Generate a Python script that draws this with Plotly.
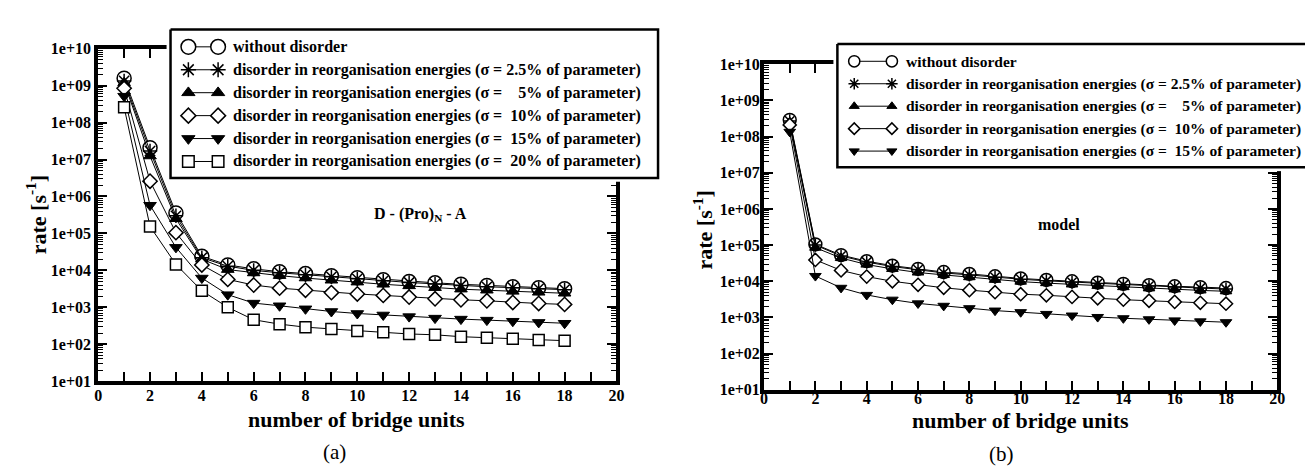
import plotly.graph_objects as go

# ---------------- data ----------------
bridge_units = list(range(1, 19))

x_tick_vals = [0, 2, 4, 6, 8, 10, 12, 14, 16, 18, 20]
x_tick_text = ["0", "2", "4", "6", "8", "10", "12", "14", "16", "18", "20"]
x_minor_vals = [1, 3, 5, 7, 9, 11, 13, 15, 17, 19]
y_tick_vals = [1e1, 1e2, 1e3, 1e4, 1e5, 1e6, 1e7, 1e8, 1e9, 1e10]
y_tick_text = ["1e+01", "1e+02", "1e+03", "1e+04", "1e+05", "1e+06", "1e+07", "1e+08", "1e+09", "1e+10"]

legend_labels = [
    "without disorder",
    "disorder in reorganisation energies (\u03c3 = 2.5% of parameter)",
    "disorder in reorganisation energies (\u03c3 =\u00a0\u00a0\u00a0\u00a05% of parameter)",
    "disorder in reorganisation energies (\u03c3 =\u00a0\u00a010% of parameter)",
    "disorder in reorganisation energies (\u03c3 =\u00a0\u00a015% of parameter)",
    "disorder in reorganisation energies (\u03c3 =\u00a0\u00a020% of parameter)",
]

# panel (a): D-(Pro)N-A
rate_a_none = [1.6e9, 2.1e7, 3.6e5, 2.4e4, 1.4e4, 1.1e4, 9.2e3, 8.2e3, 7.2e3, 6.3e3, 5.6e3, 5.0e3, 4.6e3, 4.2e3, 3.9e3, 3.6e3, 3.4e3, 3.2e3]
rate_a_s025 = [1.35e9, 1.7e7, 3.0e5, 2.2e4, 1.3e4, 1.0e4, 8.6e3, 7.6e3, 6.7e3, 5.9e3, 5.2e3, 4.7e3, 4.3e3, 3.9e3, 3.6e3, 3.4e3, 3.2e3, 3.0e3]
rate_a_s05 = [1.2e9, 1.25e7, 2.5e5, 2.0e4, 1.05e4, 8.5e3, 7.2e3, 6.2e3, 5.4e3, 4.8e3, 4.2e3, 3.8e3, 3.4e3, 3.1e3, 2.9e3, 2.7e3, 2.55e3, 2.4e3]
rate_a_s10 = [8.5e8, 2.6e6, 1.05e5, 1.4e4, 5.7e3, 4.0e3, 3.3e3, 2.9e3, 2.5e3, 2.3e3, 2.1e3, 1.9e3, 1.7e3, 1.6e3, 1.5e3, 1.35e3, 1.27e3, 1.2e3]
rate_a_s15 = [5.2e8, 5.8e5, 4.2e4, 6.2e3, 2.2e3, 1.3e3, 1.1e3, 9.1e2, 7.7e2, 6.8e2, 6.2e2, 5.6e2, 5.1e2, 4.8e2, 4.5e2, 4.2e2, 3.9e2, 3.7e2]
rate_a_s20 = [2.6e8, 1.55e5, 1.45e4, 2.8e3, 1.0e3, 4.6e2, 3.5e2, 2.9e2, 2.6e2, 2.3e2, 2.1e2, 1.9e2, 1.8e2, 1.6e2, 1.5e2, 1.4e2, 1.3e2, 1.25e2]

# panel (b): model
rate_b_none = [2.9e8, 1.05e5, 5.3e4, 3.6e4, 2.7e4, 2.2e4, 1.8e4, 1.6e4, 1.38e4, 1.2e4, 1.09e4, 1.0e4, 9.2e3, 8.5e3, 7.8e3, 7.3e3, 6.9e3, 6.5e3]
rate_b_s025 = [2.7e8, 1.0e5, 5.0e4, 3.4e4, 2.55e4, 2.1e4, 1.7e4, 1.5e4, 1.3e4, 1.14e4, 1.03e4, 9.5e3, 8.7e3, 8.0e3, 7.4e3, 6.9e3, 6.5e3, 6.1e3]
rate_b_s05 = [2.5e8, 8.5e4, 4.4e4, 2.9e4, 2.2e4, 1.75e4, 1.5e4, 1.3e4, 1.1e4, 9.8e3, 8.9e3, 8.2e3, 7.5e3, 6.9e3, 6.4e3, 6.0e3, 5.6e3, 5.3e3]
rate_b_s10 = [2.1e8, 3.9e4, 2.0e4, 1.35e4, 1.0e4, 8.0e3, 6.6e3, 5.7e3, 5.0e3, 4.4e3, 4.1e3, 3.7e3, 3.4e3, 3.1e3, 2.9e3, 2.7e3, 2.55e3, 2.4e3]
rate_b_s15 = [1.35e8, 1.4e4, 6.6e3, 4.2e3, 3.1e3, 2.45e3, 2.1e3, 1.8e3, 1.55e3, 1.4e3, 1.25e3, 1.13e3, 1.03e3, 9.5e2, 8.9e2, 8.3e2, 7.8e2, 7.4e2]

series_a = [rate_a_none, rate_a_s025, rate_a_s05, rate_a_s10, rate_a_s15, rate_a_s20]
series_b = [rate_b_none, rate_b_s025, rate_b_s05, rate_b_s10, rate_b_s15]

# ---------------- styles ----------------
FONT = "Liberation Serif"
W, H = 1313, 466

styles = [
    dict(symbol="circle", color="white", size=14, lw=1.5),
    dict(symbol="asterisk-open", color="black", size=12, lw=1.5),
    dict(symbol="triangle-up", color="black", size=11, lw=1),
    dict(symbol="diamond", color="white", size=11, lw=1.5),
    dict(symbol="triangle-down", color="black", size=11, lw=1),
    dict(symbol="square", color="white", size=11, lw=1.5),
]


def marker(st, scale=1.0):
    return dict(symbol=st["symbol"], color=st["color"], size=st["size"] * scale,
                line=dict(color="black", width=st["lw"]))


fig = go.Figure()

for vals, st in zip(series_a, styles):
    fig.add_trace(go.Scatter(x=bridge_units, y=vals, xaxis="x", yaxis="y",
                             mode="lines+markers", line=dict(color="black", width=1),
                             marker=marker(st), showlegend=False, hoverinfo="skip"))

for vals, st in zip(series_b, styles):
    fig.add_trace(go.Scatter(x=bridge_units, y=vals, xaxis="x2", yaxis="y2",
                             mode="lines+markers", line=dict(color="black", width=1),
                             marker=marker(st, 0.92), showlegend=False, hoverinfo="skip"))

# ---------------- custom legends (xmgrace style) ----------------
rows_a = [22, 45.8, 69.6, 93.4, 117.2, 141]
fig.add_trace(go.Scatter(x=[4, 496, 496, 4, 4], y=[4, 4, 158, 158, 4], xaxis="x3", yaxis="y3",
                         mode="lines", fill="toself", fillcolor="white",
                         line=dict(color="black", width=2.5), showlegend=False, hoverinfo="skip"))
for r, st in zip(rows_a, styles):
    fig.add_trace(go.Scatter(x=[22, 52], y=[r, r], xaxis="x3", yaxis="y3",
                             mode="lines+markers", line=dict(color="black", width=1),
                             marker=marker(st, 1.05), showlegend=False, hoverinfo="skip"))

rows_b = [22, 45.3, 68.6, 91.9, 115.2]
fig.add_trace(go.Scatter(x=[4, 700, 700, 4, 4], y=[4, 4, 132, 132, 4], xaxis="x4", yaxis="y4",
                         mode="lines", fill="toself", fillcolor="white",
                         line=dict(color="black", width=2.5), showlegend=False, hoverinfo="skip"))
for r, st in zip(rows_b, styles):
    fig.add_trace(go.Scatter(x=[21, 59], y=[r, r], xaxis="x4", yaxis="y4",
                             mode="lines+markers", line=dict(color="black", width=1),
                             marker=marker(st, 0.8), showlegend=False, hoverinfo="skip"))

annotations = []
for r, lab in zip(rows_a, legend_labels):
    annotations.append(dict(x=66, y=r, xref="x3", yref="y3", text="<b>" + lab + "</b>", showarrow=False,
                            xanchor="left", yanchor="middle", borderpad=0,
                            font=dict(family=FONT, size=16, color="black")))
for r, lab in zip(rows_b, legend_labels[:5]):
    annotations.append(dict(x=72, y=r, xref="x4", yref="y4", text="<b>" + lab + "</b>", showarrow=False,
                            xanchor="left", yanchor="middle", borderpad=0,
                            font=dict(family=FONT, size=15.5, color="black")))

# ---------------- axes ----------------
minor_vals = [m * 10 ** e for e in range(1, 10) for m in range(2, 10)]
tfont = dict(family=FONT, size=16, color="black")


def xax(domain, anchor, standoff):
    return dict(domain=domain, anchor=anchor, range=[0, 20], tickmode="array",
                tickvals=x_tick_vals, ticktext=["<b>" + t + "</b>" for t in x_tick_text],
                ticks="inside", ticklen=9, tickwidth=2, tickcolor="black",
                showline=True, linewidth=4, linecolor="black",
                mirror="ticks", showgrid=False, zeroline=False, ticklabelstandoff=standoff,
                minor=dict(tickmode="array", tickvals=x_minor_vals, ticks="inside", ticklen=9,
                           tickwidth=2, tickcolor="black", showgrid=False),
                tickfont=tfont)


def yax(domain, anchor, standoff):
    return dict(domain=domain, anchor=anchor, type="log", range=[1, 10], tickmode="array",
                tickvals=y_tick_vals, ticktext=["<b>" + t + "</b>" for t in y_tick_text],
                ticks="inside", ticklen=9, tickwidth=2, tickcolor="black",
                showline=True, linewidth=4, linecolor="black",
                mirror="ticks", showgrid=False, zeroline=False, ticklabelstandoff=standoff,
                minor=dict(tickmode="array", tickvals=minor_vals, ticks="inside", ticklen=5,
                           tickwidth=1, tickcolor="black", showgrid=False),
                tickfont=tfont)


layout = dict(
    width=W, height=H, margin=dict(l=0, r=0, t=0, b=0),
    paper_bgcolor="white", plot_bgcolor="white", showlegend=False,
    font=dict(family=FONT, size=16, color="black"),
    xaxis=xax([87 / W, 610 / W], "y", -3),
    yaxis=yax([(H - 379) / H, (H - 34) / H], "x", 0),
    xaxis2=xax([759 / W, 1277 / W], "y2", -9),
    yaxis2=yax([(H - 388) / H, (H - 50) / H], "x2", -3),
    xaxis3=dict(domain=[156 / W, 656 / W], anchor="y3", range=[0, 500], visible=False, fixedrange=True),
    yaxis3=dict(domain=[(H - 172) / H, (H - 10) / H], anchor="x3", range=[162, 0], visible=False, fixedrange=True),
    xaxis4=dict(domain=[829 / W, 1.0], anchor="y4", range=[0, 484], visible=False, fixedrange=True),
    yaxis4=dict(domain=[(H - 161) / H, (H - 25) / H], anchor="x4", range=[136, 0], visible=False, fixedrange=True),
)

f22 = dict(family=FONT, size=22, color="black")
f16 = dict(family=FONT, size=16, color="black")
cap = dict(family=FONT, size=21, color="black")

annotations += [
    dict(x=348 / W, y=(H - 419) / H, xref="paper", yref="paper", text="<b>number of bridge units</b>",
         showarrow=False, xanchor="center", yanchor="middle", font=f22),
    dict(x=1018 / W, y=(H - 420) / H, xref="paper", yref="paper", text="<b>number of bridge units</b>",
         showarrow=False, xanchor="center", yanchor="middle", font=f22),
    dict(x=25 / W, y=(H - 206) / H, xref="paper", yref="paper", text="<b>rate [s<sup>-1</sup>]</b>",
         textangle=-90, showarrow=False, xanchor="center", yanchor="middle", font=f22),
    dict(x=697 / W, y=(H - 222) / H, xref="paper", yref="paper", text="<b>rate [s<sup>-1</sup>]</b>",
         textangle=-90, showarrow=False, xanchor="center", yanchor="middle", font=f22),
    dict(x=12.45, y=5.5, xref="x", yref="y", text="<b>D - (Pro)<sub>N</sub> - A</b>",
         showarrow=False, xanchor="center", yanchor="middle", font=f16),
    dict(x=11.5, y=5.58, xref="x2", yref="y2", text="<b>model</b>",
         showarrow=False, xanchor="center", yanchor="middle", font=f16),
    dict(x=325 / W, y=(H - 453) / H, xref="paper", yref="paper", text="(a)",
         showarrow=False, xanchor="center", yanchor="middle", font=cap),
    dict(x=999 / W, y=(H - 455) / H, xref="paper", yref="paper", text="(b)",
         showarrow=False, xanchor="center", yanchor="middle", font=cap),
]
layout["annotations"] = annotations

fig.update_layout(**layout)
fig.write_html("out.html")
